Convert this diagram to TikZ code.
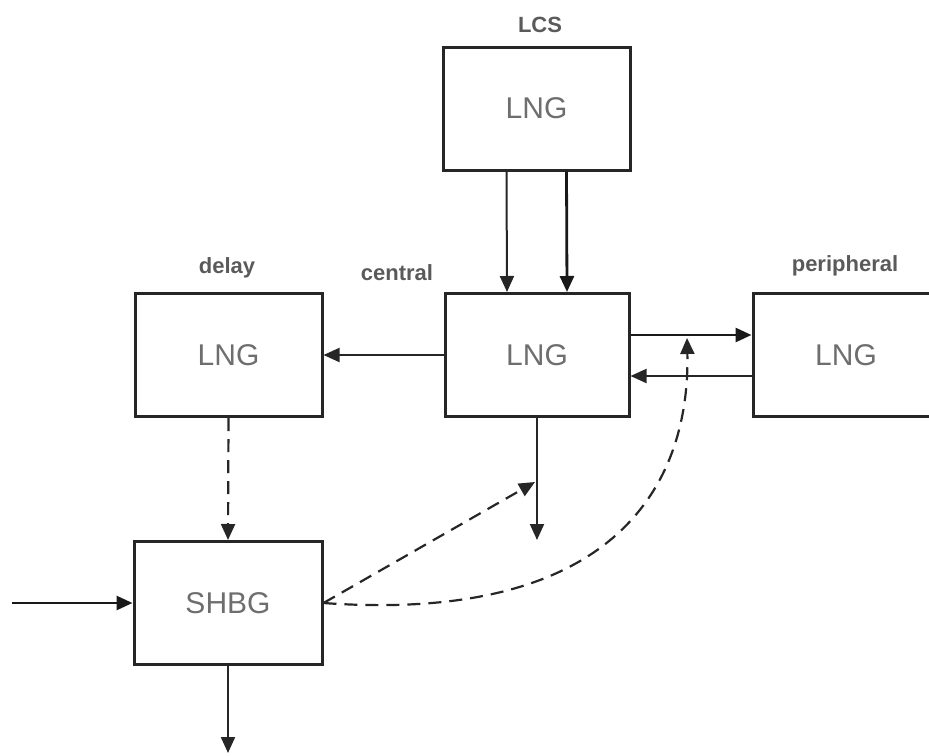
\documentclass[tikz,border=0pt]{standalone}
\usepackage{fontspec}
\setmainfont{Liberation Sans}
\usetikzlibrary{positioning,calc,arrows.meta}

\definecolor{txtgray}{HTML}{6E6E6E}
\definecolor{lblgray}{HTML}{5A5A5A}

\tikzset{
  lng/.style={draw=black!85, line width=3pt, minimum width=187pt, minimum height=123pt,
    inner sep=0pt, text=txtgray, font=\fontsize{30}{33}\selectfont},
  lbl/.style={text=lblgray, font=\fontsize{22}{24}\selectfont\bfseries, inner sep=0pt},
  flow/.style={->, line width=2pt, draw=black!85},
  flowb/.style={->, line width=2.8pt, draw=black!90},
  sig/.style={->, line width=2.2pt, draw=black!85, dash pattern=on 13pt off 8pt}
}

\begin{document}
\begin{tikzpicture}[x=1pt, y=-1pt, >={Triangle[length=16pt,width=14pt]}]
	\useasboundingbox (0,0) rectangle (929,755);
	% Blocs
	\node[lng] (lcs) at (536.5, 108.5) {LNG};
	\node[lng, minimum width=184pt] (central) at (537, 355) {LNG};
	\node[lng] (delay) at (228.5, 355) {LNG};
	\node[lng, minimum width=186pt] (peri) at (846, 355) {LNG};
	\node[lng, minimum width=188pt] (shbg) at (228, 603) {SHBG};
	
	% Titres
	\node[lbl] (tlcs) at (540, 25) {LCS};
	\node[lbl] (tdelay) at (227, 268) {delay};
	\node[lbl] (tcentral) at (397, 273) {central};
	\node[lbl] (tperi) at (845, 266) {peripheral};
	
	% Points libres
	\coordinate (cout) at (537, 540);
	\coordinate (sin) at (12, 603);
	\coordinate (sout) at (228, 753);
	\coordinate (tap) at (535, 482);
	\coordinate (ptap) at (687, 338);
	
	% Flux
	\draw[flow] ([xshift=-30pt]lcs.south) -- ([xshift=-30pt]central.north);
	\draw[flowb] ([xshift=30pt]lcs.south) -- ([xshift=30pt]central.north);
	\draw[flow] (central.west) -- (delay.east);
	\draw[flowb] ([yshift=20pt]central.east) -- ([yshift=20pt]peri.west);
	\draw[flow] ([yshift=-21pt]peri.west) -- ([yshift=-21pt]central.east);
	\draw[flow] (central.south) -- (cout);
	\draw[flowb] (sin) -- (shbg.west);
	\draw[flow] (shbg.south) -- (sout);
	
	% Liaisons en pointillés
	\draw[sig] (delay.south) -- (shbg.north);
	\draw[sig] (shbg.east) -- (tap);
	\draw[sig] (shbg.east) .. controls (630, 625) and (690, 470) .. (ptap);
\end{tikzpicture}
\end{document}
